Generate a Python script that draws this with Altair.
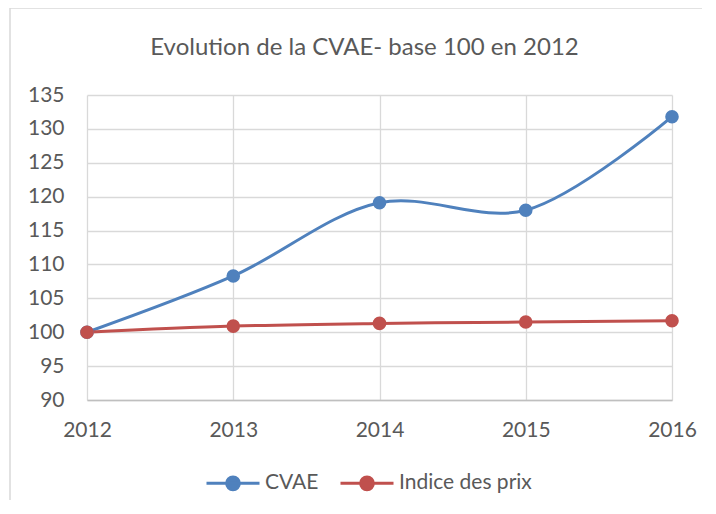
import altair as alt
import pandas as pd

years = [2012, 2013, 2014, 2015, 2016]
cvae = [100.0, 108.3, 119.1, 118.0, 131.8]
prix = [100.0, 100.9, 101.3, 101.5, 101.7]
series = ["CVAE", "Indice des prix"]
colors = ["#4f81bd", "#c0504d"]
y_ticks = [90, 95, 100, 105, 110, 115, 120, 125, 130, 135]

df = pd.DataFrame({
    "annee": years * 2,
    "valeur": cvae + prix,
    "serie": [series[0]] * len(years) + [series[1]] * len(years),
})

FONT = "Lato"
TXT = "#595959"
sym = "M-1,0H1M-0.24,0A0.24,0.24,0,1,1,0.24,0A0.24,0.24,0,1,1,-0.24,0Z"

leg = alt.Legend(
    title=None, orient="none", legendX=118, legendY=360, direction="horizontal",
    symbolType=sym, symbolSize=2809, symbolStrokeWidth=3, labelOffset=4,
    columnPadding=15, labelFont=FONT, labelFontSize=21, labelColor=TXT, padding=0,
)

x = alt.X("annee:Q", scale=alt.Scale(domain=[2012, 2016], nice=False),
          axis=alt.Axis(values=years, format="d", title=None, ticks=False,
                        labelPadding=19, labelFlush=False, grid=True,
                        domainColor="#bfbfbf", domainWidth=1.5))
y = alt.Y("valeur:Q", scale=alt.Scale(domain=[90, 135], nice=False, zero=False),
          axis=alt.Axis(values=y_ticks, title=None, ticks=False, domain=False,
                        labelPadding=23, grid=True))

base = alt.Chart(df)
line = base.mark_line(interpolate="catmull-rom", strokeWidth=3).encode(
    x=x, y=y,
    stroke=alt.Stroke("serie:N", scale=alt.Scale(domain=series, range=colors), legend=leg),
)
pts = base.mark_point(filled=True, size=185, opacity=1).encode(
    x=x, y=y,
    fill=alt.Fill("serie:N", scale=alt.Scale(domain=series, range=colors), legend=leg),
)

frame_df = pd.DataFrame({"k": [0]})
frame_left = alt.Chart(frame_df).mark_rule(color="#d9d9d9", strokeWidth=1.5).encode(
    x=alt.value(-77), y=alt.value(-87), y2=alt.value(420))
frame_top = alt.Chart(frame_df).mark_rule(color="#d9d9d9", strokeWidth=1.5).encode(
    x=alt.value(-77), x2=alt.value(640), y=alt.value(-87))

chart = alt.layer(frame_left, frame_top, line, pts).properties(
    width=585, height=305,
    title=alt.TitleParams("Evolution de la CVAE- base 100 en 2012", font=FONT, fontSize=24,
                          fontWeight="normal", color=TXT, anchor="middle", frame="group",
                          dx=-15, dy=75, offset=22),
    autosize=alt.AutoSizeParams(type="none"),
    padding={"left": 79, "top": 87, "right": 30, "bottom": 100},
).configure_axis(
    labelFont=FONT, labelFontSize=21, labelColor=TXT, gridColor="#d9d9d9", gridWidth=1.3,
).configure_view(stroke=None)

chart.save("out.html", embed_options={"renderer": "svg", "actions": False})
